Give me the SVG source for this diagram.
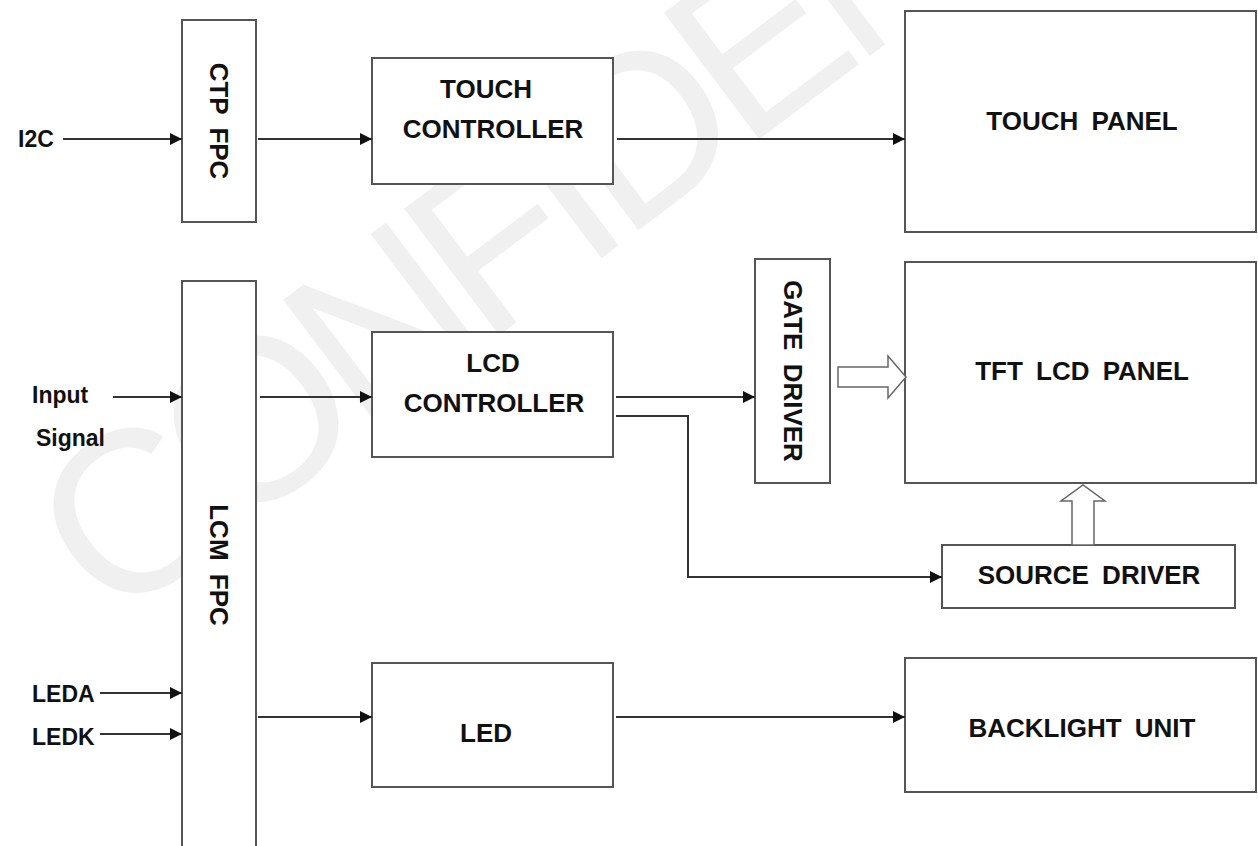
<svg xmlns="http://www.w3.org/2000/svg" width="1258" height="846" viewBox="0 0 1258 846">
<defs>
<marker id="ah" markerUnits="userSpaceOnUse" markerWidth="12" markerHeight="12" refX="12" refY="6" orient="auto"><path d="M0,0 L12,6 L0,12 z" fill="#111"/></marker>
<style>
.box{fill:#fff;stroke:#555;stroke-width:2}
.t{font-family:"Liberation Sans",Arial,sans-serif;font-weight:bold;font-size:26px;fill:#111;word-spacing:6px;text-anchor:middle}
.lbl{font-family:"Liberation Sans",Arial,sans-serif;font-weight:bold;font-size:23px;fill:#111}
.c{fill:none;stroke:#333;stroke-width:2}
.hollow{fill:#fff;stroke:#666;stroke-width:1.5}
.wm{font-family:"Liberation Sans",Arial,sans-serif;font-size:230px;letter-spacing:-15px;fill:#f0f0f0}
</style>
</defs>
<rect width="1258" height="846" fill="#fff"/>
<g id="watermark"><text class="wm" transform="translate(112,627) rotate(-37)">CONFIDENTIAL</text></g>
<g id="ctp-fpc"><rect class="box" x="182" y="20" width="74" height="202"/><text class="t" transform="translate(219,121) rotate(90)" y="9">CTP FPC</text></g>
<g id="lcm-fpc"><rect class="box" x="182" y="281" width="74" height="580"/><text class="t" transform="translate(219,565) rotate(90)" y="9">LCM FPC</text></g>
<g id="touch-controller"><rect class="box" x="372" y="58" width="241" height="126"/><text class="t" x="486" y="98">TOUCH</text><text class="t" x="493" y="138">CONTROLLER</text></g>
<g id="lcd-controller"><rect class="box" x="372" y="332" width="241" height="125"/><text class="t" x="493" y="372">LCD</text><text class="t" x="494" y="412">CONTROLLER</text></g>
<g id="led"><rect class="box" x="372" y="663" width="241" height="124"/><text class="t" x="486" y="742">LED</text></g>
<g id="gate-driver"><rect class="box" x="755" y="259" width="75" height="224"/><text class="t" transform="translate(793,371) rotate(90)" y="9">GATE DRIVER</text></g>
<g id="touch-panel"><rect class="box" x="905" y="11" width="351" height="221"/><text class="t" x="1082" y="130">TOUCH PANEL</text></g>
<g id="tft-lcd-panel"><rect class="box" x="905" y="262" width="351" height="221"/><text class="t" x="1082" y="380">TFT LCD PANEL</text></g>
<g id="source-driver"><rect class="box" x="942" y="545" width="293" height="63"/><text class="t" x="1089" y="584">SOURCE DRIVER</text></g>
<g id="backlight-unit"><rect class="box" x="905" y="658" width="351" height="134"/><text class="t" x="1082" y="737">BACKLIGHT UNIT</text></g>
<g id="labels">
<text class="lbl" x="18" y="147">I2C</text>
<text class="lbl" x="32" y="403">Input</text>
<text class="lbl" x="36" y="446">Signal</text>
<text class="lbl" x="32" y="702">LEDA</text>
<text class="lbl" x="32" y="745">LEDK</text>
</g>
<g id="connectors">
<path class="c" d="M63,139 H182" marker-end="url(#ah)"/>
<path class="c" d="M258,139 H372" marker-end="url(#ah)"/>
<path class="c" d="M617,139 H905" marker-end="url(#ah)"/>
<path class="c" d="M113,397 H182" marker-end="url(#ah)"/>
<path class="c" d="M260,397 H372" marker-end="url(#ah)"/>
<path class="c" d="M616,397 H755" marker-end="url(#ah)"/>
<path class="c" d="M616,416 H688 V577 H942" marker-end="url(#ah)"/>
<path class="c" d="M100,693 H182" marker-end="url(#ah)"/>
<path class="c" d="M100,734 H182" marker-end="url(#ah)"/>
<path class="c" d="M258,717 H372" marker-end="url(#ah)"/>
<path class="c" d="M616,717 H905" marker-end="url(#ah)"/>
<polygon class="hollow" points="838,367 888,367 888,356 906,377 888,398 888,387 838,387"/>
<polygon class="hollow" points="1072,545 1072,501 1061,501 1083,485 1105,501 1094,501 1094,545"/>
</g>
</svg>
